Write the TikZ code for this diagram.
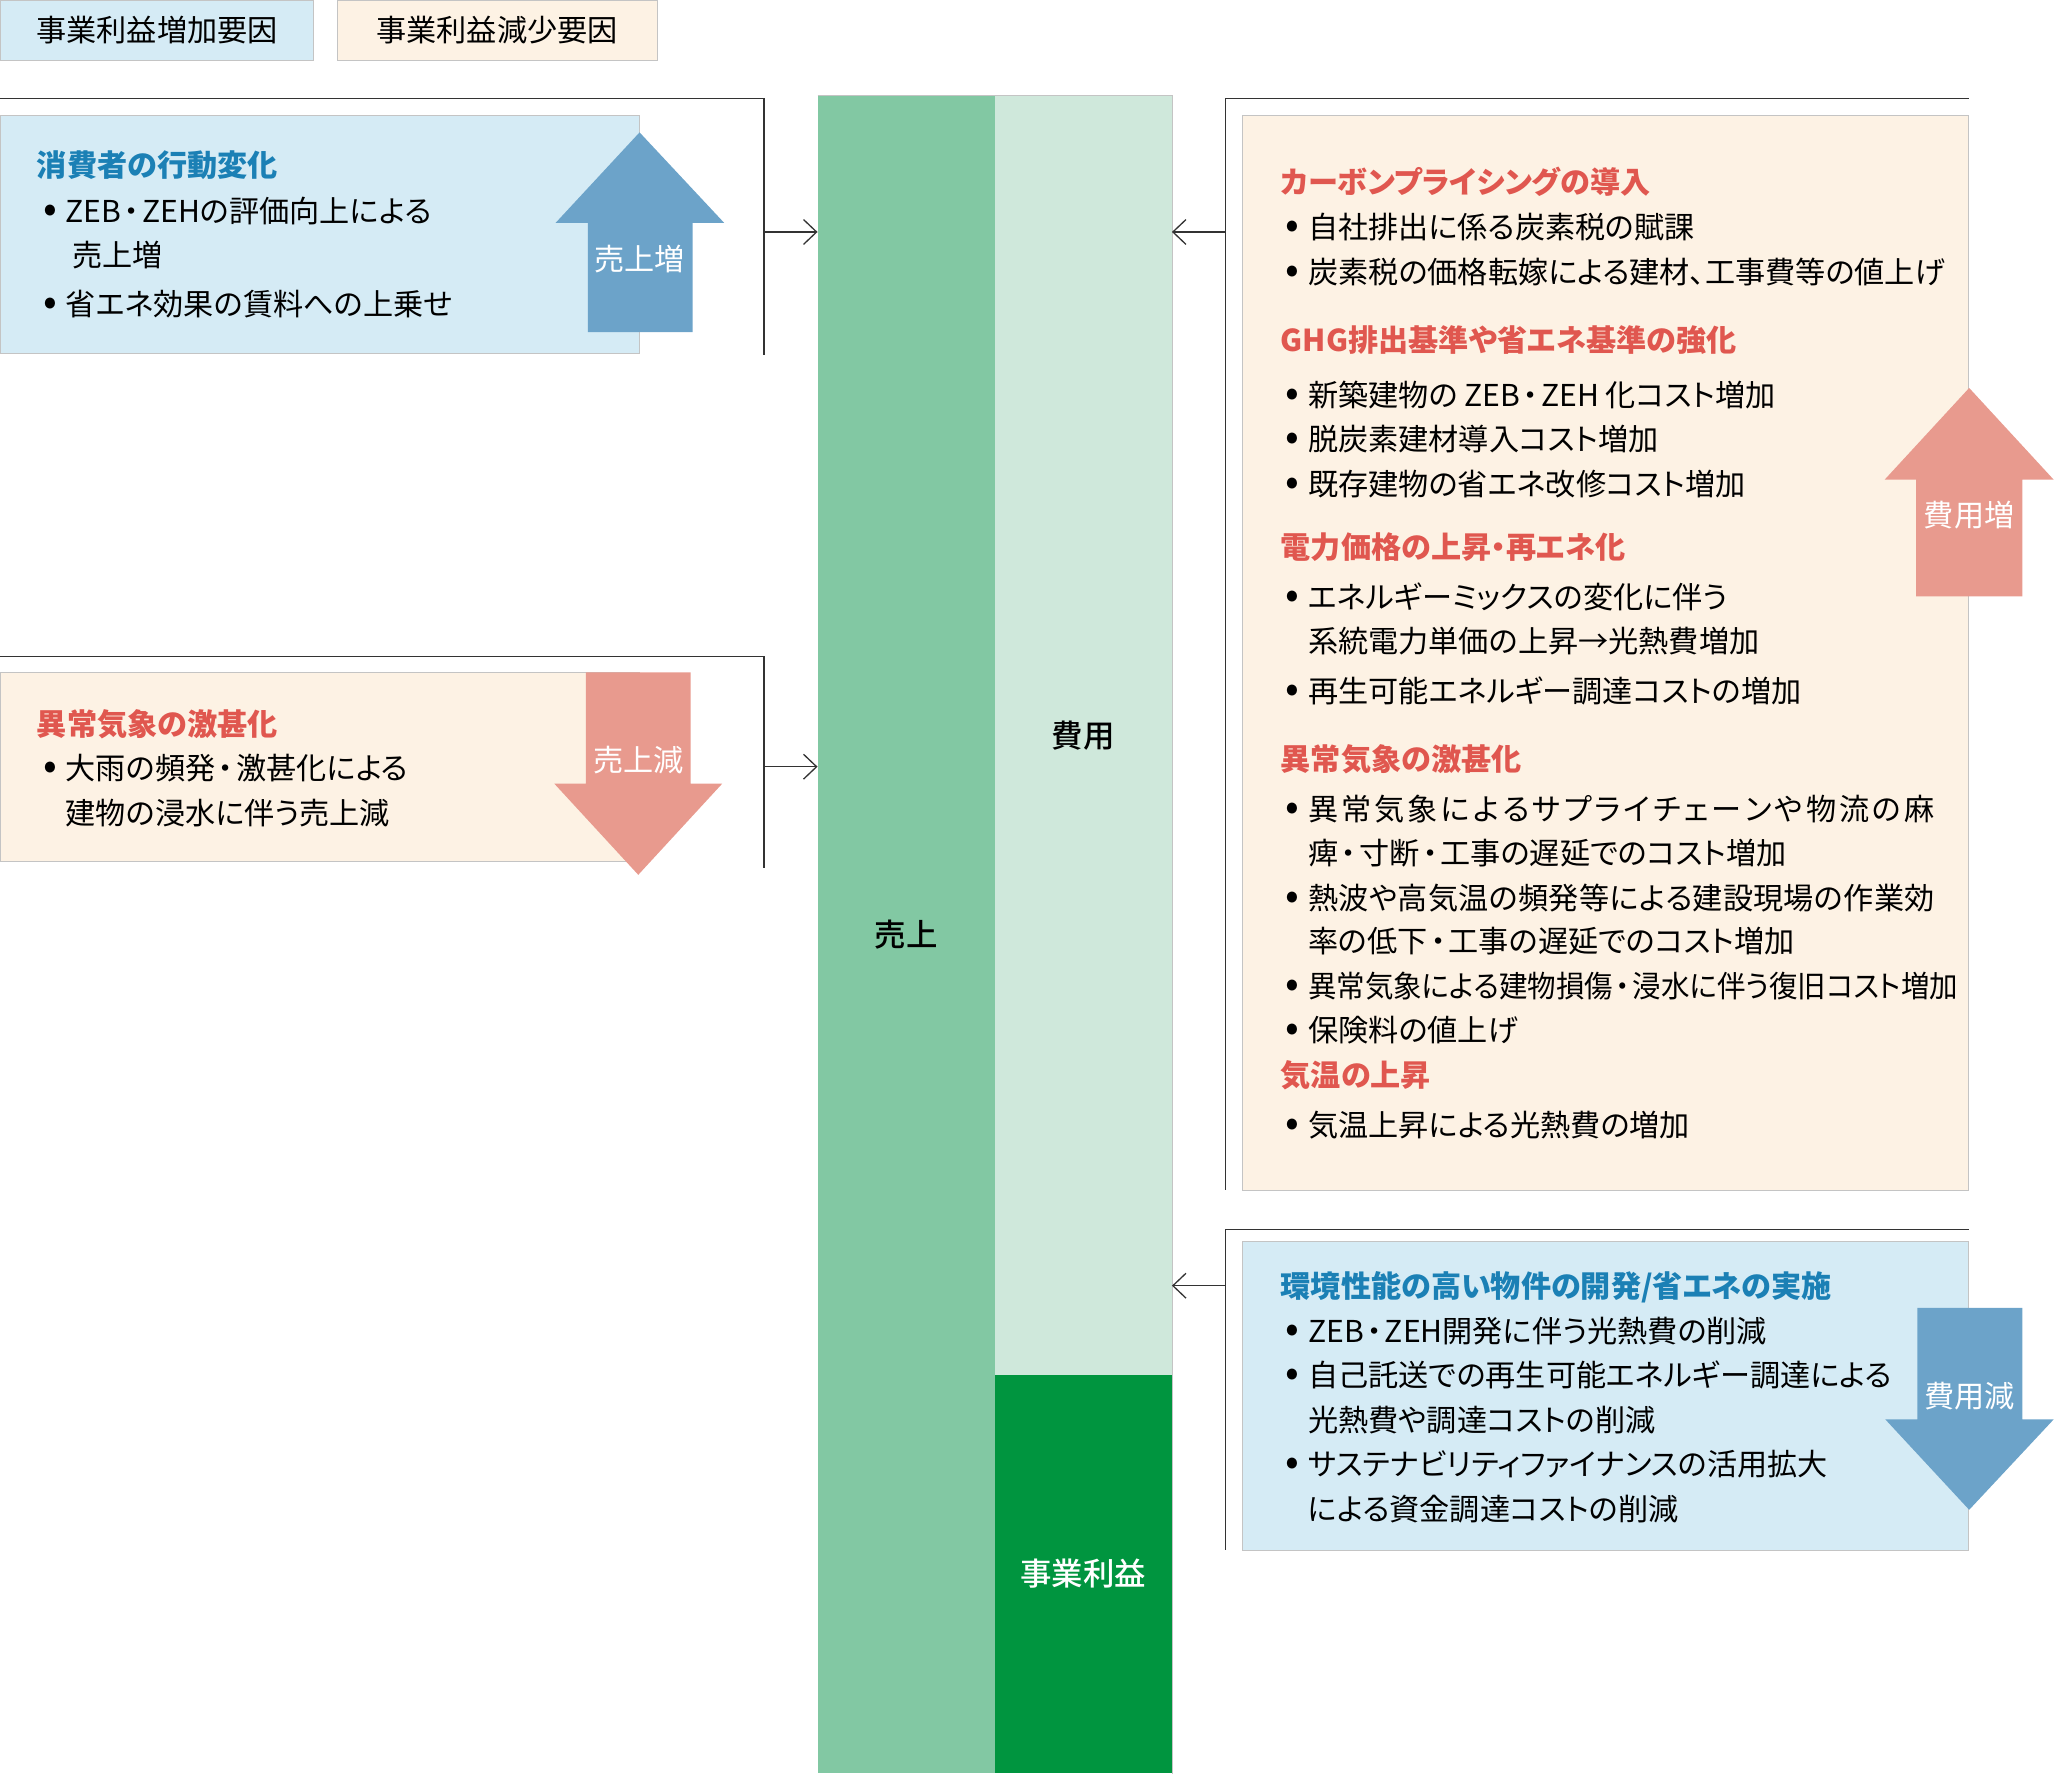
\documentclass[tikz,border=0pt]{standalone}
\usepackage{fontspec}
\setmainfont{Noto Sans CJK JP}[RawFeature=+palt]
\newfontfamily\medfont{Noto Sans CJK JP Medium}
\usetikzlibrary{arrows.meta}
\definecolor{boxblue}{HTML}{D5EBF5}
\definecolor{boxcream}{HTML}{FDF2E4}
\definecolor{arrblue}{HTML}{6CA3C9}
\definecolor{arrred}{HTML}{E89A8E}
\definecolor{salesgreen}{HTML}{82C8A3}
\definecolor{costgreen}{HTML}{CFE8DB}
\definecolor{profitgreen}{HTML}{00953F}
\definecolor{headblue}{HTML}{1B80B5}
\definecolor{headred}{HTML}{E0574F}
\definecolor{rimgray}{HTML}{C4C4C4}
\definecolor{linegray}{HTML}{333333}
% middle dot a little wider than the proportional one
\newcommand\nkg{\makebox[16pt][c]{・}}
% justified line: spread the characters over a fixed width
\newcommand\spreadline[2]{\makebox[#1][s]{\spreadchars#2\relax}}
\def\spreadchars#1#2{#1\ifx\relax#2\else\hfill\expandafter\spreadchars\fi#2}
\begin{document}
\begin{tikzpicture}[x=1pt,y=-1pt,
    every node/.style={inner sep=0pt, font=\fontsize{23}{30}\selectfont},
    line/.style={anchor=base west},
    bul/.style={line, execute at begin node={\llap{\makebox[0pt][c]{\scalebox{1.35}{•}}\hspace{12pt}}}},
    hblue/.style={line, text=headblue, font=\fontsize{23}{30}\selectfont\bfseries},
    hred/.style={line, text=headred, font=\fontsize{23}{30}\selectfont\bfseries},
    tag/.style={text=white},
    legend/.style={draw=rimgray, line width=0.6pt, minimum height=46pt, anchor=north west},
    bar/.style={minimum width=135pt, font=\fontsize{24}{30}\medfont},
    panel/.style={draw=rimgray, line width=0.6pt},
    rim/.style={draw=linegray, line width=1pt},
    conn/.style={draw=linegray, line width=1pt, -{Straight Barb[length=10pt,width=19pt]}}]
  \useasboundingbox (0,0) rectangle (1568,1354);

  % legend
  \node[legend, fill=boxblue, minimum width=239pt] (lg1) at (0,0) {事業利益増加要因};
  \node[legend, fill=boxcream, minimum width=244pt] (lg2) at (257,0) {事業利益減少要因};

  % bar
  \node[bar, fill=salesgreen, minimum height=1280pt] (sales) at (691.5,713) {売上};
  \node[bar, fill=costgreen, minimum height=976pt] (cost) at (826.5,561) {費用};
  \node[bar, fill=profitgreen, text=white, minimum height=304pt] (profit) at (826.5,1201) {事業利益};
  \draw[panel] (sales.north west) -- (cost.north east) -- (profit.south east);

  % panels
  \filldraw[panel, fill=boxblue] (0,88) rectangle (488,269.5);
  \filldraw[panel, fill=boxcream] (0,513) rectangle (488,657.5);
  \filldraw[panel, fill=boxcream] (948,88) rectangle (1502,908);
  \filldraw[panel, fill=boxblue] (948,947) rectangle (1502,1183);

  % brackets
  \draw[rim] (0,75) -- (583,75) -- (583,271);
  \draw[rim] (0,501) -- (583,501) -- (583,662);
  \draw[rim] (1502,75) -- (935,75) -- (935,908);
  \draw[rim] (1502,938) -- (935,938) -- (935,1183);
  \coordinate (k1) at (583,177);
  \coordinate (k2) at (583,585);
  \coordinate (k3) at (935,177);
  \coordinate (k4) at (935,981);

  % fat arrows
  \fill[arrblue] (448.5,253.5) -- (448.5,170) -- (424,170) -- (488,101) -- (552.5,170) -- (528.5,170) -- (528.5,253.5) -- cycle;
  \fill[arrred] (447,513) -- (447,598) -- (423,598) -- (487,667.5) -- (551,598) -- (527,598) -- (527,513) -- cycle;
  \fill[arrred] (1462,455) -- (1462,366) -- (1438,366) -- (1502.5,296) -- (1567,366) -- (1543,366) -- (1543,455) -- cycle;
  \fill[arrblue] (1463,998) -- (1463,1083) -- (1438.5,1083) -- (1502.5,1152) -- (1567,1083) -- (1543,1083) -- (1543,998) -- cycle;
  \draw
    (488,197.5) node[tag] (a1) {売上増}
    (487,580) node[tag] (a2) {売上減}
    (1502.5,393) node[tag] (a3) {費用増}
    (1503,1065) node[tag] (a4) {費用減};

  % left texts
  \draw
    (28,135) node[hblue] (l0) {消費者の行動変化}
    (50,170) node[bul] (l1) {ZEB\nkg ZEHの評価向上による}
    (55,203.5) node[line] (l2) {売上増}
    (50,241) node[bul] (l3) {省エネ効果の賃料への上乗せ}
    (28,561) node[hred] (m0) {異常気象の激甚化}
    (50,595) node[bul] (m1) {大雨の頻発\nkg 激甚化による}
    (50,629) node[line] (m2) {建物の浸水に伴う売上減};

  % right texts
  \draw
    (977,148) node[hred] (r0) {カーボンプライシングの導入}
    (998,182) node[bul] (r1) {自社排出に係る炭素税の賦課}
    (998,216) node[bul] (r2) {炭素税の価格転嫁による建材、工事費等の値上げ}
    (977,268) node[hred] (r3) {GHG排出基準や省エネ基準の強化}
    (998,310) node[bul] (r4) {新築建物の ZEB\nkg ZEH 化コスト増加}
    (998,344) node[bul] (r5) {脱炭素建材導入コスト増加}
    (998,378) node[bul] (r6) {既存建物の省エネ改修コスト増加}
    (977,426) node[hred] (r7) {電力価格の上昇・再エネ化}
    (998,464) node[bul] (r8) {エネルギーミックスの変化に伴う}
    (998,498) node[line] (r9) {系統電力単価の上昇→光熱費増加}
    (998,536) node[bul] (r10) {再生可能エネルギー調達コストの増加}
    (977,588) node[hred] (r11) {異常気象の激甚化}
    (998,626) node[bul] (r12) {\spreadline{478pt}{異常気象によるサプライチェーンや物流の麻}}
    (998,660) node[line] (r13) {痺\nkg 寸断\nkg 工事の遅延でのコスト増加}
    (998,694) node[bul] (r14) {\spreadline{478pt}{熱波や高気温の頻発等による建設現場の作業効}}
    (998,727) node[line] (r15) {率の低下\nkg 工事の遅延でのコスト増加}
    (998,761) node[bul] (r16) {\scalebox{0.945}[1]{異常気象による建物損傷\nkg 浸水に伴う復旧コスト増加}}
    (998,795) node[bul] (r17) {保険料の値上げ}
    (977,829) node[hred] (r18) {気温の上昇}
    (998,867) node[bul] (r19) {気温上昇による光熱費の増加};
  \draw
    (977,990) node[hblue] (s0) {環境性能の高い物件の開発/省エネの実施}
    (998,1024) node[bul] (s1) {ZEB\nkg ZEH開発に伴う光熱費の削減}
    (998,1058) node[bul] (s2) {自己託送での再生可能エネルギー調達による}
    (998,1092) node[line] (s3) {光熱費や調達コストの削減}
    (998,1126) node[bul] (s4) {サステナビリティファイナンスの活用拡大}
    (998,1160) node[line] (s5) {による資金調達コストの削減};

  \begin{scope}[conn]
    \draw (k1) to (k1 -| sales.west);
    \draw (k2) to (k2 -| sales.west);
    \draw (k3) to (k3 -| cost.east);
    \draw (k4) to (k4 -| cost.east);
  \end{scope}
\end{tikzpicture}
\end{document}
